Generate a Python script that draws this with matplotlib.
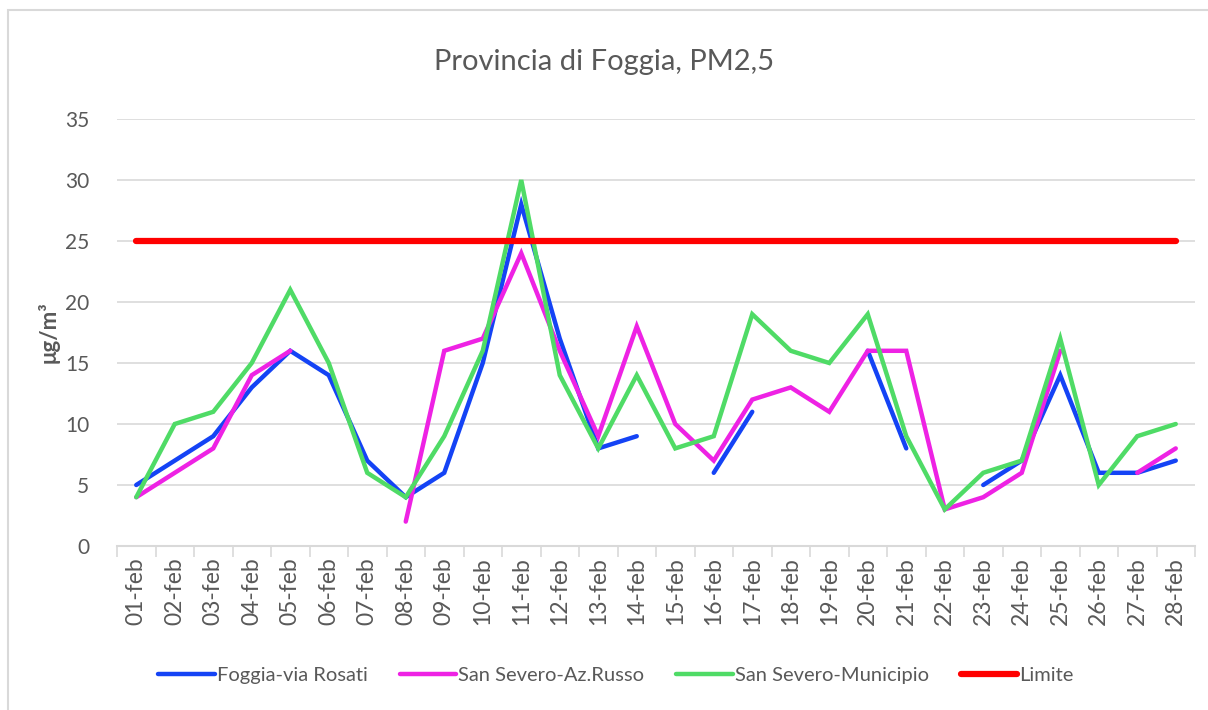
import numpy as np
import matplotlib
matplotlib.use("Agg")
import matplotlib.pyplot as plt
from matplotlib.patches import Rectangle

plt.rcParams['font.family'] = ['Lato', 'DejaVu Sans']

nan = np.nan
days = ["%02d-feb" % d for d in range(1, 29)]

foggia_rosati = [5, 7, 9, 13, 16, 14, 7, 4, 6, 15, 28, 17, 8, 9, nan, 6, 11, nan,
                 nan, 16, 8, nan, 5, 7, 14, 6, 6, 7]
severo_russo = [4, 6, 8, 14, 16, nan, nan, 2, 16, 17, 24, 16, 9, 18, 10, 7, 12, 13,
                11, 16, 16, 3, 4, 6, 16, nan, 6, 8]
severo_municipio = [4, 10, 11, 15, 21, 15, 6, 4, 9, 16, 30, 14, 8, 14, 8, 9, 19, 16,
                    15, 19, 9, 3, 6, 7, 17, 5, 9, 10]
limite = [25] * 28

series = [
    ("Foggia-via Rosati", foggia_rosati, "#1443F5", 3.2),
    ("San Severo-Az.Russo", severo_russo, "#EE22E4", 3.2),
    ("San Severo-Municipio", severo_municipio, "#4FDB66", 3.2),
    ("Limite", limite, "#FF0000", 4.5),
]

fig = plt.figure(figsize=(12.08, 7.10), dpi=100)
ax = fig.add_axes([117 / 1208, 1 - 546 / 710, (1195 - 117) / 1208, (546 - 119) / 710])

# chart border
fig.patches.append(Rectangle((8 / 1208, -0.1), 1.2, 1 - 10 / 710 + 0.1,
                             transform=fig.transFigure, fill=False,
                             edgecolor="#d9d9d9", linewidth=1.5))

x = np.arange(len(days))
for name, vals, col, lw in series:
    ax.plot(x, np.array(vals, dtype=float), color=col, linewidth=lw, label=name,
            solid_capstyle='round', solid_joinstyle='miter')

ax.set_xlim(-0.5, len(days) - 0.5)
ax.set_ylim(0, 35)
ax.set_yticks(range(0, 36, 5))
ax.set_xticks(x)
ax.set_xticklabels(days, rotation=90, fontsize=16.5, color="#595959")
ax.set_xticks(np.arange(-0.5, len(days), 1), minor=True)
ax.tick_params(axis='x', which='major', length=0, pad=8)
ax.tick_params(axis='x', which='minor', length=8, color="#d9d9d9", width=1.2)
ax.tick_params(axis='y', length=0, labelsize=15, labelcolor="#595959", pad=20)
ax.grid(axis='y', color="#d9d9d9", linewidth=1.2)
ax.set_axisbelow(True)
for s in ['top', 'right', 'left']:
    ax.spines[s].set_visible(False)
ax.spines['bottom'].set_color("#d9d9d9")
ax.spines['bottom'].set_linewidth(1.5)

ax.set_ylabel("μg/m³", fontsize=16, fontweight='bold', color="#595959", labelpad=4)
fig.text(0.5, 1 - 62 / 710, "Provincia di Foggia, PM2,5", ha='center', va='center',
         fontsize=21, color="#595959")

fig.legend(loc='center', bbox_to_anchor=(0.51, 1 - 675 / 710), ncol=4, frameon=False,
           fontsize=14.5, handlelength=2.8, handletextpad=0.1, columnspacing=1.6,
           labelcolor="#595959")

fig.savefig("out.png", dpi=100)
